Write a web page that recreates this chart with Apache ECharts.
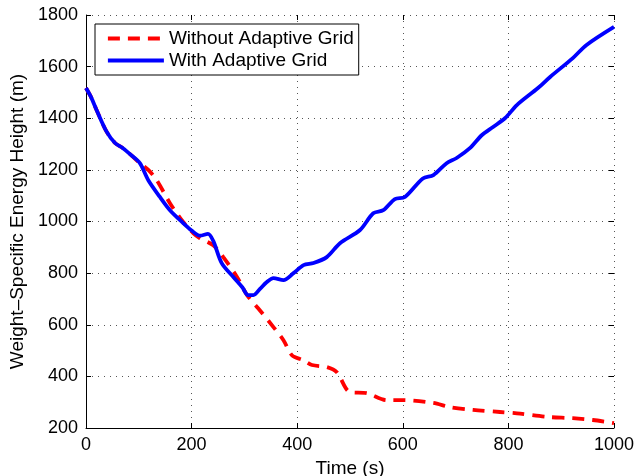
<!DOCTYPE html>
<html>
<head>
<meta charset="utf-8">
<script src="https://cdn.jsdelivr.net/npm/echarts@6/dist/echarts.min.js"></script>
<style>
  html, body { margin: 0; padding: 0; background: #fff; }
  #chart { width: 635px; height: 476px; }
</style>
</head>
<body>
<div id="chart"></div>
<script>
// Energy height over time, with and without the adaptive grid
const seriesNames = ['Without Adaptive Grid', 'With Adaptive Grid'];

const timeWithout = [0, 10, 20, 39, 55, 70, 85, 102, 118, 134, 159, 184, 203, 216, 241, 260, 286, 305, 326, 355, 374, 390, 411, 428, 456, 475, 500, 532, 570, 601, 658, 689, 733, 784, 816, 873, 922, 960, 1000];
const heightWithout = [1517, 1480, 1432, 1348, 1304, 1284, 1258, 1226, 1200, 1160, 1071, 998, 955, 935, 908, 862, 785, 715, 664, 591, 540, 482, 463, 444, 436, 416, 339, 335, 308, 308, 297, 281, 270, 262, 257, 243, 238, 231, 219];

const timeWith = [0, 10, 20, 39, 55, 70, 85, 102, 118, 140, 159, 184, 200, 216, 231, 241, 257, 279, 296, 307, 317, 330, 342, 355, 374, 393, 412, 431, 456, 481, 519, 544, 563, 585, 604, 638, 658, 683, 702, 727, 750, 771, 794, 816, 856, 879, 922, 948, 1000];
const heightWith = [1517, 1480, 1432, 1348, 1304, 1284, 1258, 1226, 1160, 1095, 1044, 994, 965, 945, 952, 925, 839, 785, 745, 715, 715, 740, 765, 781, 773, 800, 831, 839, 862, 916, 967, 1032, 1044, 1087, 1095, 1167, 1180, 1226, 1246, 1284, 1335, 1366, 1401, 1451, 1517, 1560, 1633, 1684, 1754];

const xTicks = { min: 0, max: 1000, step: 200 };
const yTicks = { min: 200, max: 1800, step: 200 };

const pairs = (xs, ys) => xs.map((x, i) => [x, ys[i]]);

const font = 'Liberation Sans, Arial, Helvetica, sans-serif';
const gridDots = { color: '#555', width: 1, type: [1, 5] };
const plainNumber = v => String(v);
const lineWidth = 3.8;

// inward tick marks shared by all four sides
const innerTicks = { show: true, inside: true, length: 5, lineStyle: { color: '#000', width: 1 } };

const chart = echarts.init(document.getElementById('chart'), null, { renderer: 'canvas' });
chart.setOption({
  animation: false,
  backgroundColor: '#fff',
  grid: { left: 86, right: 21, top: 15, bottom: 48, containLabel: false, outerBoundsMode: 'none' },
  legend: {
    left: 95, top: 24,
    orient: 'vertical',
    backgroundColor: '#fff',
    borderColor: '#000',
    borderWidth: 1,
    borderRadius: 0,
    padding: [5, 5, 5, 11],
    itemWidth: 56,
    itemHeight: 14,
    itemGap: 3,
    itemStyle: { opacity: 0 },
    lineStyle: { width: lineWidth },
    textStyle: { fontFamily: font, fontSize: 19, color: '#000' },
    data: seriesNames
  },
  xAxis: [
    {
      type: 'value',
      position: 'bottom',
      min: xTicks.min, max: xTicks.max, interval: xTicks.step,
      name: 'Time (s)',
      nameLocation: 'middle',
      nameGap: 30,
      nameTextStyle: { fontFamily: font, fontSize: 19, color: '#000' },
      axisLine: { onZero: false, lineStyle: { color: '#000', width: 1 } },
      axisTick: innerTicks,
      axisLabel: { fontFamily: font, fontSize: 18, color: '#000', margin: 8, formatter: plainNumber },
      splitLine: { show: true, lineStyle: gridDots }
    },
    {
      type: 'value',
      position: 'top',
      min: xTicks.min, max: xTicks.max, interval: xTicks.step,
      axisLine: { show: false, onZero: false },
      axisTick: innerTicks,
      axisLabel: { show: false },
      splitLine: { show: false }
    }
  ],
  yAxis: [
    {
      type: 'value',
      position: 'left',
      min: yTicks.min, max: yTicks.max, interval: yTicks.step,
      name: 'Weight\u2013Specific Energy Height (m)',
      nameLocation: 'middle',
      nameGap: 58,
      nameTextStyle: { fontFamily: font, fontSize: 19, color: '#000' },
      axisLine: { show: true, onZero: false, lineStyle: { color: '#000', width: 1 } },
      axisTick: innerTicks,
      axisLabel: { fontFamily: font, fontSize: 18, color: '#000', margin: 8, formatter: plainNumber },
      splitLine: { show: true, lineStyle: gridDots }
    },
    {
      type: 'value',
      position: 'right',
      min: yTicks.min, max: yTicks.max, interval: yTicks.step,
      axisLine: { show: false, onZero: false },
      axisTick: innerTicks,
      axisLabel: { show: false },
      splitLine: { show: false }
    }
  ],
  series: [
    {
      name: seriesNames[0],
      type: 'line',
      data: pairs(timeWithout, heightWithout),
      smooth: 0.3,
      symbol: 'none',
      color: '#ff0000',
      lineStyle: { color: '#ff0000', width: lineWidth, type: [12, 8] },
      z: 2
    },
    {
      name: seriesNames[1],
      type: 'line',
      data: pairs(timeWith, heightWith),
      smooth: 0.3,
      symbol: 'none',
      color: '#0000ff',
      lineStyle: { color: '#0000ff', width: lineWidth },
      z: 3
    }
  ]
});
</script>
</body>
</html>
